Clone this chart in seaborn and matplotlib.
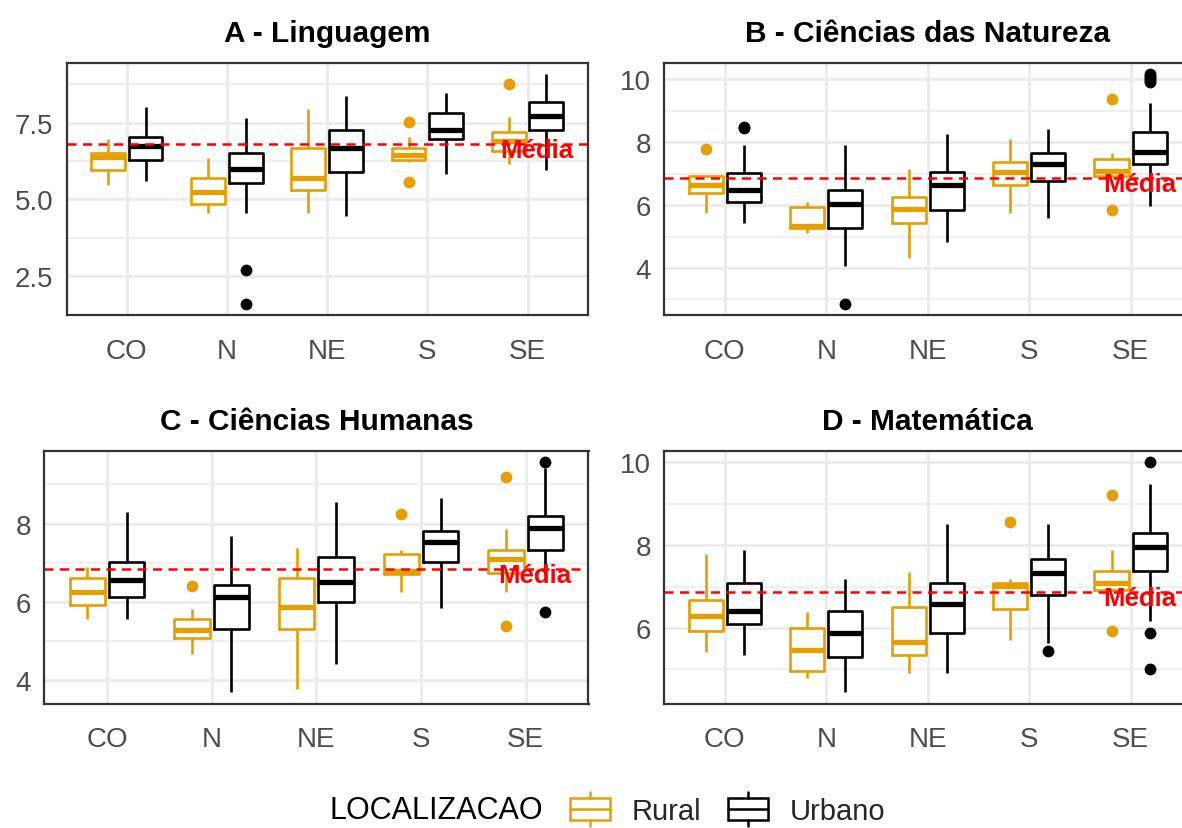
import numpy as np
import pandas as pd
import matplotlib
matplotlib.use("Agg")
import matplotlib.pyplot as plt
import seaborn as sns
from matplotlib.patches import Rectangle
from matplotlib.lines import Line2D
from matplotlib.legend_handler import HandlerBase
from matplotlib.ticker import FixedLocator

# ---------------- data ----------------
regions = ["CO", "N", "NE", "S", "SE"]
locations = ["Rural", "Urbano"]
titles = ["A - Linguagem", "B - Ciências das Natureza",
          "C - Ciências Humanas", "D - Matemática"]
media = [6.81, 6.86, 6.84, 6.86]

# each box: [lower whisker, Q1, median, Q3, upper whisker] for CO, N, NE, S, SE
ling_rural = [[5.47, 5.97, 6.37, 6.50, 6.95], [4.55, 4.84, 5.23, 5.68, 6.35],
              [4.55, 5.30, 5.68, 6.67, 7.93], [6.22, 6.28, 6.45, 6.67, 7.02],
              [6.15, 6.57, 6.90, 7.18, 7.69]]
ling_rural_out = [[], [], [], [5.57, 7.53], [8.75]]
ling_urbano = [[5.60, 6.27, 6.74, 7.03, 8.01], [4.55, 5.54, 5.99, 6.50, 7.64],
               [4.46, 5.90, 6.66, 7.27, 8.38], [5.84, 6.95, 7.27, 7.80, 8.45],
               [5.95, 7.27, 7.72, 8.17, 9.07]]
ling_urbano_out = [[], [1.59, 2.70], [], [], []]

nat_rural = [[5.75, 6.38, 6.65, 6.93, 6.93], [5.13, 5.26, 5.35, 5.95, 6.09],
             [4.31, 5.43, 5.87, 6.26, 7.15], [5.74, 6.63, 7.04, 7.38, 8.12],
             [6.93, 6.93, 7.08, 7.46, 7.67]]
nat_rural_out = [[7.78], [], [], [], [5.85, 9.39]]
nat_urbano = [[5.42, 6.09, 6.48, 7.01, 7.91], [4.07, 5.26, 6.03, 6.48, 7.91],
              [4.84, 5.86, 6.64, 7.07, 8.27], [5.58, 6.76, 7.31, 7.67, 8.43],
              [5.96, 7.31, 7.70, 8.33, 9.24]]
nat_urbano_out = [[8.45, 8.50], [2.86], [], [], [9.92, 9.98, 10.04, 10.10, 10.16]]

hum_rural = [[5.58, 5.93, 6.25, 6.62, 6.89], [4.67, 5.09, 5.28, 5.58, 5.81],
             [3.77, 5.32, 5.88, 6.62, 7.39], [6.25, 6.72, 6.78, 7.22, 7.32],
             [6.25, 6.74, 7.10, 7.34, 7.87]]
hum_rural_out = [[], [6.40], [], [8.24], [5.39, 9.20]]
hum_urbano = [[5.58, 6.12, 6.55, 7.03, 8.30], [3.70, 5.32, 6.13, 6.44, 7.69],
              [4.43, 6.00, 6.50, 7.16, 8.54], [5.86, 7.03, 7.53, 7.82, 8.66],
              [6.68, 7.34, 7.89, 8.19, 9.42]]
hum_urbano_out = [[], [], [], [], [5.74, 9.56]]

mat_rural = [[5.43, 5.93, 6.29, 6.68, 7.80], [4.79, 4.96, 5.48, 5.99, 6.39],
             [4.91, 5.35, 5.66, 6.51, 7.36], [5.71, 6.45, 7.02, 7.09, 7.18],
             [6.91, 6.91, 7.10, 7.38, 7.89]]
mat_rural_out = [[], [], [], [8.56], [5.93, 9.21]]
mat_urbano = [[5.36, 6.11, 6.40, 7.09, 7.89], [4.45, 5.30, 5.89, 6.40, 7.19],
              [4.91, 5.88, 6.57, 7.09, 8.52], [5.64, 6.80, 7.33, 7.67, 8.52],
              [6.17, 7.37, 7.95, 8.30, 9.49]]
mat_urbano_out = [[], [], [], [5.45], [5.00, 5.87, 10.0]]

y_major = [[2.5, 5.0, 7.5], [4, 6, 8, 10], [4, 6, 8], [6, 8, 10]]
y_minor = [[3.75, 6.25, 8.75], [3, 5, 7, 9], [5, 7, 9], [5, 7, 9]]
y_fmt = ["{:.1f}", "{:.0f}", "{:.0f}", "{:.0f}"]

colors = {"Rural": "#E69F00", "Urbano": "#000000"}


def expand(stats, outs):
    """Sample of 25 values whose quartiles / whiskers equal the five numbers."""
    lo, q1, med, q3, hi = stats
    low = sorted(v for v in outs if v < q1)
    high = sorted(v for v in outs if v > q3)
    return (low + [lo] + [q1] * (6 - len(low)) + [med] * 6 + [q3] * 6
            + [q3] * (5 - len(high)) + [hi] + high)


def panel_frame(rb, ro, ub, uo):
    rows = []
    for loc, boxes, outs in (("Rural", rb, ro), ("Urbano", ub, uo)):
        for reg, st, ou in zip(regions, boxes, outs):
            for v in expand(st, ou):
                rows.append((reg, loc, v))
    return pd.DataFrame(rows, columns=["REGIAO", "LOCALIZACAO", "NOTA"])


frames = [panel_frame(ling_rural, ling_rural_out, ling_urbano, ling_urbano_out),
          panel_frame(nat_rural, nat_rural_out, nat_urbano, nat_urbano_out),
          panel_frame(hum_rural, hum_rural_out, hum_urbano, hum_urbano_out),
          panel_frame(mat_rural, mat_rural_out, mat_urbano, mat_urbano_out)]

# ---------------- style ----------------
sns.set_theme(style="white")
plt.rcParams["font.family"] = ["Liberation Sans", "DejaVu Sans"]

W, H = 1182, 829
fig = plt.figure(figsize=(W / 100, H / 100), dpi=100)


def px_axes(left, right, top, bottom):
    return fig.add_axes([left / W, 1 - bottom / H, (right - left) / W, (bottom - top) / H])


axes = [px_axes(66.6, 587.7, 64, 316.3), px_axes(664, 1191.5, 64, 316.3),
        px_axes(44.2, 588.5, 452, 704.7), px_axes(664, 1191.5, 452, 704.7)]

LW = 1.9
for i, (ax, df) in enumerate(zip(axes, frames)):
    sns.boxplot(data=df, x="REGIAO", y="NOTA", hue="LOCALIZACAO", order=regions,
                hue_order=locations, palette=colors, fill=False, width=0.75, gap=0.1,
                whis=1.5, showcaps=False, linewidth=LW,
                medianprops={"linewidth": 2 * LW},
                flierprops={"marker": "o", "markersize": 8.5, "markeredgewidth": 0},
                legend=False, ax=ax)
    # white box fill and solid outliers, as in the reference
    for cont in ax.containers:
        if hasattr(cont, "boxes"):
            for box in cont.boxes:
                x, y = box.get_data()
                ax.fill(x, y, facecolor="white", edgecolor="none",
                        zorder=box.get_zorder() - 0.05)
    for ln in ax.lines:
        if ln.get_marker() == "o":
            ln.set_markerfacecolor(ln.get_markeredgecolor())

    vmin, vmax = df["NOTA"].min(), df["NOTA"].max()
    pad = 0.05 * (vmax - vmin)
    ax.set_ylim(vmin - pad, vmax + pad)
    ax.set_xlim(-0.6, 4.6)

    ax.axhline(media[i], color="red", lw=1.8, ls=(0, (3.6, 2.6)), zorder=4)
    ax.annotate("Média", xy=(4.09, media[i]), xytext=(0, -4.3),
                textcoords="offset points", ha="center", va="center",
                color="red", fontweight="bold", fontsize=18.5, zorder=5)

    ax.set_yticks(y_major[i])
    ax.set_yticklabels([y_fmt[i].format(v) for v in y_major[i]])
    ax.yaxis.set_minor_locator(FixedLocator(y_minor[i]))
    ax.set_axisbelow(True)
    ax.grid(which="major", color="#EBEBEB", lw=2.0)
    ax.grid(which="minor", axis="y", color="#EBEBEB", lw=1.1)
    ax.tick_params(which="minor", length=0)
    ax.tick_params(axis="both", which="major", length=5, width=1.6, color="#333333",
                   labelcolor="#4D4D4D", labelsize=20)
    ax.tick_params(axis="x", pad=11)
    ax.tick_params(axis="y", pad=4.5)
    for s in ax.spines.values():
        s.set_visible(True)
        s.set_color("#333333")
        s.set_linewidth(1.6)
        s.set_zorder(6)
    ax.set_xlabel("")
    ax.set_ylabel("")
    ax.set_title(titles[i], fontsize=21.5, fontweight="bold", color="black", pad=15.6)


# ---------------- legend ----------------
class BoxKeyHandler(HandlerBase):
    def create_artists(self, legend, orig_handle, xdescent, ydescent, width, height,
                       fontsize, trans):
        col = orig_handle.get_edgecolor()
        x0, y0 = -xdescent, -ydescent
        box = Rectangle((x0, y0 + 0.17 * height), width, 0.66 * height,
                        facecolor="white", edgecolor=col, lw=1.8, transform=trans)
        med = Line2D([x0, x0 + width], [y0 + 0.5 * height] * 2, color=col, lw=1.8,
                     transform=trans)
        w1 = Line2D([x0 + width / 2] * 2, [y0, y0 + 0.17 * height], color=col, lw=1.8,
                    transform=trans)
        w2 = Line2D([x0 + width / 2] * 2, [y0 + 0.83 * height, y0 + height], color=col,
                    lw=1.8, transform=trans)
        return [box, med, w1, w2]


handles = [Rectangle((0, 0), 1, 1, edgecolor=colors[l], facecolor="white")
           for l in locations]
fig.legend(handles, locations, handler_map={Rectangle: BoxKeyHandler()},
           loc="center left", bbox_to_anchor=(570 / W, 1 - 810 / H), ncol=2,
           frameon=False, fontsize=21, handlelength=1.37, handleheight=1.4,
           handletextpad=0.75, columnspacing=0.9, borderpad=0, borderaxespad=0)
fig.text(543 / W, 1 - 811 / H, "LOCALIZACAO", ha="right", va="center", fontsize=22,
         color="black")

fig.savefig("out.png", dpi=100)
